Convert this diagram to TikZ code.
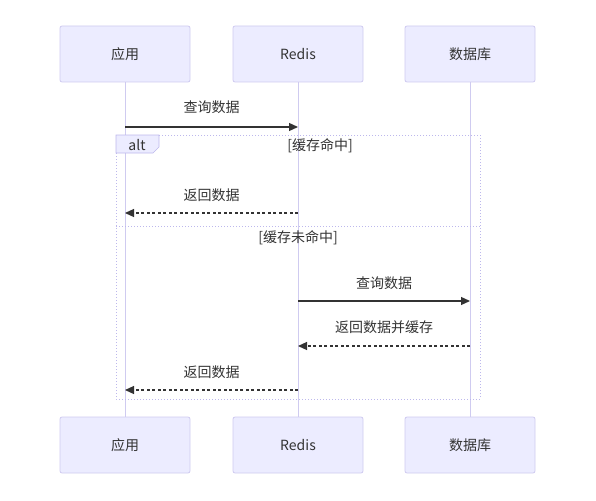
\documentclass[tikz,border=0pt]{standalone}
\usepackage{fontspec}
\setmainfont{Noto Sans CJK SC}
\usetikzlibrary{arrows.meta}
\definecolor{actorfill}{HTML}{ECECFF}
\definecolor{actorline}{HTML}{CFCAF0}
\definecolor{lifeline}{HTML}{CFCBF0}
\definecolor{framec}{HTML}{BDB8EC}
\definecolor{txt}{HTML}{333333}

\begin{document}
\begin{tikzpicture}
[x=1pt,y=-1pt]
\tikzset{actor/.style={draw=actorline,fill=actorfill,rounded corners=2pt,line width=0.8pt,minimum width=130pt,minimum height=56pt,text=txt,font=\fontsize{14}{16}\selectfont}}
\tikzset{lbl/.style={text=txt,font=\fontsize{14}{16}\selectfont}}
\tikzset{msg/.style={draw=txt,line width=1.2pt,-{Triangle[length=9pt,width=8pt]}}}
\tikzset{reply/.style={msg,dash pattern=on 3pt off 2.5pt}}
\tikzset{frameline/.style={draw=framec,line width=1pt,dotted}}
\useasboundingbox (0,0) rectangle (596,500);

\node [actor] (app) at (125,54) {应用};
\node [actor] (redis) at (298,54) {Redis};
\node [actor] (db) at (470,54) {数据库};
\node [actor] (appb) at (125,445) {应用};
\node [actor] (redisb) at (298,445) {Redis};
\node [actor] (dbb) at (470,445) {数据库};

\foreach \from/\to in {app/appb,redis/redisb,db/dbb}
	\draw [lifeline,line width=1pt] (\from) -- (\to);

% alt frame
\draw [frameline] (116,135) rectangle (480,399);
\draw [frameline] (116,226) -- (480,226);
\filldraw [draw=framec,fill=actorfill,line width=0.6pt] (116,135) -- (159,135) -- (159,147) -- (153,153) -- (116,153) -- cycle;
\node [lbl] (alt) at (137,145) {alt};
\node [lbl] (hit) at (320,146) {[缓存命中]};
\node [lbl] (miss) at (298,238) {[缓存未命中]};

\coordinate (a1) at (125,127);
\coordinate (r1) at (298,127);
\coordinate (r2) at (298,213);
\coordinate (a2) at (125,213);
\coordinate (r3) at (298,301);
\coordinate (d3) at (470,301);
\coordinate (d4) at (470,346);
\coordinate (r4) at (298,346);
\coordinate (r5) at (298,390);
\coordinate (a5) at (125,390);

\draw [msg] (a1) -- node [lbl,above=9.5pt] {查询数据} (r1);
\draw [reply] (r2) -- node [lbl,above=7.5pt] {返回数据} (a2);
\draw [msg] (r3) -- node [lbl,above=7.5pt] {查询数据} (d3);
\draw [reply] (d4) -- node [lbl,above=8.5pt] {返回数据并缓存} (r4);
\draw [reply] (r5) -- node [lbl,above=7.5pt] {返回数据} (a5);

\end{tikzpicture}
\end{document}
